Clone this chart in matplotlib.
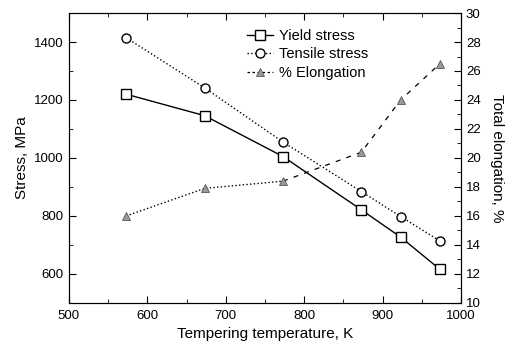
import numpy as np
import matplotlib
matplotlib.use("Agg")
import matplotlib.pyplot as plt
from matplotlib.ticker import MultipleLocator

plt.rcParams["font.family"] = ["Liberation Sans", "DejaVu Sans"]

temperature = [573, 673, 773, 873, 923, 973]
yield_stress = [1220, 1146, 1005, 821, 727, 616]
tensile_stress = [1415, 1242, 1055, 884, 798, 714]
elongation = [16.0, 17.9, 18.4, 20.4, 24.0, 26.5]

fig = plt.figure(figsize=(5.1, 3.47), dpi=100)
ax = fig.add_axes([0.135, 0.127, 0.769, 0.8355])
ax2 = ax.twinx()

l1, = ax.plot(temperature, yield_stress, "-", color="black", lw=1.0,
              marker="s", ms=6.5, mfc="white", mec="black", mew=1.0)
l2, = ax.plot(temperature, tensile_stress, ":", color="black", lw=1.0,
              marker="o", ms=6.5, mfc="white", mec="black", mew=1.0)

# elongation curve: dotted at low temperature, dashed at high temperature
ax2.plot(temperature[:3], elongation[:3], ":", color="black", lw=1.0)
ax2.plot(temperature[2:], elongation[2:], "--", color="black", lw=0.9, dashes=(4, 5))
ax2.plot(temperature, elongation, linestyle="none", color="black",
         marker="^", ms=6, mfc="#9a9a9a", mec="#555555", mew=0.6)

ax.set_xlim(500, 1000)
ax.set_ylim(500, 1500)
ax2.set_ylim(10, 30)

ax.xaxis.set_major_locator(MultipleLocator(100))
ax.xaxis.set_minor_locator(MultipleLocator(50))
ax.yaxis.set_minor_locator(MultipleLocator(100))
ax2.yaxis.set_major_locator(MultipleLocator(2))
ax2.yaxis.set_minor_locator(MultipleLocator(1))

ax.set_yticks([600, 800, 1000, 1200, 1400])
for a in (ax, ax2):
    a.tick_params(which="both", direction="in", labelsize=9.5)
    a.tick_params(which="major", length=5)
    a.tick_params(which="minor", length=3)
ax.tick_params(axis="x", which="both", top=True)
ax.tick_params(axis="x", pad=5)

ax.set_xlabel("Tempering temperature, K", fontsize=11)
ax.set_ylabel("Stress, MPa", fontsize=11)
ax2.set_ylabel("Total elongation, %", fontsize=11, rotation=270, labelpad=17)

l3_leg, = ax.plot([], [], linestyle=(0, (2, 2)), color="black", lw=0.9,
                  marker="^", ms=6, mfc="#9a9a9a", mec="#555555", mew=0.6)
ax.legend([l1, l2, l3_leg], ["Yield stress", "Tensile stress", "% Elongation"],
          loc="upper left", bbox_to_anchor=(0.42, 0.99), frameon=False,
          fontsize=10.5, handlelength=1.8, handletextpad=0.4, labelspacing=0.3)

fig.savefig("out.png", dpi=100)
